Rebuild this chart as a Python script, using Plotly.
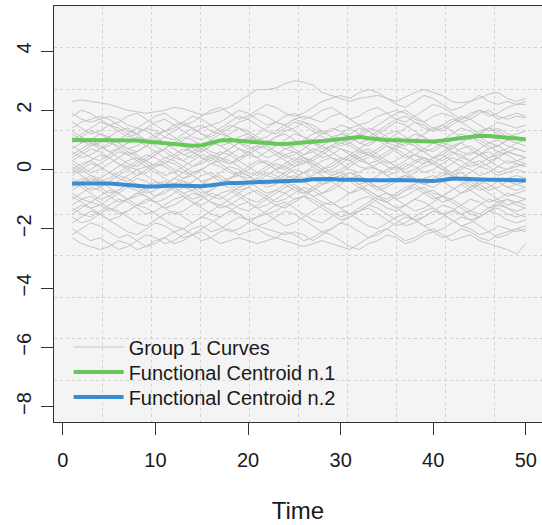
import plotly.graph_objects as go

time = list(range(1, 51))

group_curves_txt = [
    "2.3 2.35 2.3 2.25 2.2 2.1 2.0 1.95 1.9 1.95 2.0 2.1 2.05 1.95 1.85 1.9 2.0 2.1 2.3 2.5 2.7 2.7 2.75 2.9 3.0 2.95 2.85 2.6 2.5 2.4 2.3 2.4 2.45 2.5 2.4 2.3 2.45 2.6 2.7 2.6 2.5 2.3 2.25 2.3 2.4 2.55 2.6 2.4 2.3 2.4",
    "1.9 1.7 1.6 1.7 1.8 1.7 1.5 1.4 1.6 1.8 1.9 1.7 1.5 1.6 1.8 2.0 2.1 1.9 1.7 1.8 2.0 2.2 2.1 1.9 1.8 1.9 2.1 2.3 2.4 2.5 2.4 2.6 2.7 2.6 2.4 2.2 2.1 2.3 2.5 2.4 2.2 2.0 2.1 2.3 2.5 2.3 2.2 2.3 2.2 2.3",
    "1.4 1.6 1.7 1.8 1.7 1.5 1.3 1.2 1.4 1.3 1.1 1.0 1.2 1.4 1.5 1.3 1.2 1.4 1.6 1.7 1.9 1.8 1.6 1.5 1.7 1.8 1.7 1.6 1.8 1.9 1.7 1.5 1.6 1.8 1.9 2.0 1.9 1.7 1.6 1.8 1.9 1.8 1.6 1.7 1.9 2.0 1.8 1.7 1.8 1.75",
    "1.2 1.0 0.8 0.9 1.1 1.3 1.4 1.2 1.0 0.9 1.1 1.3 1.5 1.4 1.2 1.0 0.8 0.9 1.1 1.2 1.0 0.9 1.1 1.3 1.4 1.6 1.5 1.3 1.1 1.2 1.4 1.5 1.3 1.1 1.0 1.2 1.4 1.6 1.5 1.3 1.4 1.6 1.8 1.7 1.5 1.3 1.4 1.2 1.1 1.0",
    "0.9 1.1 1.3 1.2 1.0 0.7 0.5 0.6 0.8 1.0 0.9 0.7 0.5 0.4 0.6 0.8 1.0 1.2 1.4 1.3 1.1 0.9 0.8 1.0 1.2 1.1 0.9 0.7 0.8 1.0 1.2 1.4 1.3 1.1 0.9 0.8 1.0 1.2 1.1 0.9 0.8 0.7 0.9 1.1 1.3 1.4 1.2 1.0 0.9 1.0",
    "0.6 0.4 0.5 0.7 0.9 0.8 0.6 0.4 0.3 0.5 0.7 0.9 1.1 1.0 0.8 0.6 0.5 0.7 0.9 0.8 0.6 0.4 0.5 0.7 0.6 0.4 0.3 0.5 0.7 0.9 0.8 0.6 0.5 0.7 0.9 1.1 1.0 0.8 0.6 0.7 0.9 0.8 0.6 0.5 0.7 0.9 1.0 0.8 0.7 0.6",
    "0.3 0.5 0.7 0.6 0.4 0.2 0.1 0.3 0.5 0.4 0.2 0.0 -0.1 0.1 0.3 0.5 0.4 0.2 0.3 0.5 0.7 0.8 0.6 0.4 0.5 0.7 0.9 0.8 0.6 0.4 0.3 0.5 0.6 0.4 0.2 0.3 0.5 0.7 0.6 0.4 0.3 0.5 0.7 0.8 0.6 0.4 0.5 0.6 0.5 0.4",
    "0.1 -0.1 0.0 0.2 0.4 0.6 0.5 0.3 0.1 0.2 0.4 0.3 0.1 -0.1 0.0 0.2 0.1 -0.1 -0.2 0.0 0.2 0.3 0.1 0.0 0.2 0.4 0.3 0.1 -0.1 0.0 0.2 0.4 0.5 0.3 0.1 0.0 0.2 0.1 -0.1 0.0 0.2 0.4 0.3 0.1 0.2 0.4 0.6 0.5 0.3 0.2",
    "-0.2 0.0 0.2 0.1 -0.1 -0.3 -0.4 -0.2 0.0 0.2 0.1 -0.1 -0.3 -0.2 0.0 0.2 0.4 0.3 0.1 -0.1 -0.2 0.0 0.2 0.1 -0.1 -0.3 -0.2 0.0 0.2 0.4 0.3 0.1 0.0 0.2 0.3 0.1 -0.1 0.0 0.2 0.4 0.5 0.3 0.1 0.0 -0.2 -0.1 0.1 0.3 0.2 0.1",
    "-0.5 -0.3 -0.4 -0.6 -0.8 -0.7 -0.5 -0.3 -0.4 -0.6 -0.5 -0.3 -0.1 -0.2 -0.4 -0.6 -0.5 -0.3 -0.2 -0.4 -0.6 -0.8 -0.7 -0.5 -0.3 -0.1 0.0 -0.2 -0.4 -0.3 -0.1 -0.2 -0.4 -0.6 -0.5 -0.3 -0.2 -0.4 -0.5 -0.3 -0.1 -0.2 -0.4 -0.6 -0.5 -0.3 -0.4 -0.6 -0.5 -0.4",
    "-0.8 -1.0 -1.1 -0.9 -0.7 -0.8 -1.0 -1.2 -1.1 -0.9 -0.7 -0.6 -0.8 -1.0 -0.9 -0.7 -0.5 -0.6 -0.8 -1.0 -1.1 -0.9 -0.7 -0.8 -1.0 -0.9 -0.7 -0.5 -0.4 -0.6 -0.8 -0.7 -0.5 -0.6 -0.8 -1.0 -0.9 -0.7 -0.6 -0.8 -0.9 -0.7 -0.5 -0.7 -0.9 -1.1 -1.0 -0.8 -0.9 -1.0",
    "-1.2 -1.0 -0.9 -1.1 -1.3 -1.5 -1.4 -1.2 -1.0 -1.1 -1.3 -1.2 -1.0 -0.8 -0.9 -1.1 -1.3 -1.2 -1.0 -0.8 -0.7 -0.9 -1.1 -1.0 -0.8 -0.6 -0.7 -0.9 -1.1 -1.3 -1.2 -1.0 -0.9 -1.1 -1.3 -1.4 -1.2 -1.0 -1.1 -1.3 -1.5 -1.4 -1.2 -1.0 -1.1 -1.3 -1.2 -1.0 -1.1 -1.2",
    "-1.6 -1.8 -1.7 -1.5 -1.3 -1.4 -1.6 -1.8 -1.9 -1.7 -1.5 -1.4 -1.6 -1.8 -1.6 -1.4 -1.2 -1.3 -1.5 -1.7 -1.6 -1.4 -1.2 -1.1 -1.3 -1.5 -1.7 -1.8 -1.6 -1.4 -1.5 -1.7 -1.9 -2.0 -1.8 -1.6 -1.5 -1.7 -1.9 -1.8 -1.6 -1.4 -1.5 -1.7 -1.6 -1.4 -1.3 -1.5 -1.6 -1.5",
    "-2.3 -2.5 -2.6 -2.7 -2.6 -2.4 -2.5 -2.7 -2.6 -2.4 -2.3 -2.5 -2.4 -2.2 -2.1 -2.3 -2.5 -2.4 -2.3 -2.4 -2.5 -2.4 -2.3 -2.4 -2.5 -2.6 -2.5 -2.4 -2.5 -2.6 -2.7 -2.5 -2.3 -2.1 -2.0 -2.2 -2.4 -2.3 -2.1 -2.0 -2.2 -2.4 -2.3 -2.2 -2.4 -2.5 -2.6 -2.7 -2.85 -2.5",
    "-2.0 -2.2 -2.4 -2.3 -2.5 -2.7 -2.6 -2.4 -2.2 -2.3 -2.5 -2.4 -2.2 -2.0 -1.9 -2.1 -2.0 -1.8 -1.6 -1.7 -1.9 -1.8 -1.6 -1.4 -1.5 -1.7 -1.9 -2.1 -2.0 -1.8 -1.6 -1.4 -1.3 -1.5 -1.7 -1.9 -1.8 -1.6 -1.4 -1.3 -1.5 -1.7 -1.9 -2.0 -2.2 -2.1 -1.9 -2.0 -2.1 -2.0",
    "0.8 0.6 0.4 0.3 0.5 0.7 0.9 1.0 0.8 0.6 0.4 0.5 0.7 0.6 0.4 0.2 0.3 0.5 0.7 0.6 0.4 0.2 0.0 0.1 0.3 0.5 0.7 0.6 0.4 0.3 0.5 0.7 0.9 1.0 0.8 0.6 0.4 0.5 0.7 0.9 0.8 0.6 0.4 0.3 0.5 0.7 0.8 0.6 0.5 0.4",
    "0.4 0.6 0.8 1.0 1.1 0.9 0.7 0.8 1.0 1.2 1.3 1.1 0.9 0.7 0.6 0.8 1.0 0.9 0.7 0.5 0.4 0.6 0.8 0.9 0.7 0.5 0.6 0.8 1.0 1.2 1.1 0.9 0.8 1.0 1.2 1.3 1.1 0.9 0.7 0.6 0.8 1.0 1.2 1.1 0.9 0.7 0.8 1.0 1.1 1.0",
    "-0.3 -0.5 -0.7 -0.6 -0.4 -0.2 -0.3 -0.5 -0.7 -0.9 -0.8 -0.6 -0.4 -0.5 -0.7 -0.9 -1.0 -0.8 -0.6 -0.4 -0.3 -0.5 -0.4 -0.2 0.0 -0.1 -0.3 -0.5 -0.4 -0.2 -0.1 -0.3 -0.5 -0.7 -0.6 -0.4 -0.2 -0.3 -0.5 -0.6 -0.4 -0.2 -0.1 -0.3 -0.5 -0.7 -0.6 -0.4 -0.5 -0.6",
    "0.0 0.2 0.3 0.1 -0.1 -0.2 0.0 0.2 0.4 0.6 0.7 0.5 0.3 0.1 0.2 0.4 0.6 0.5 0.3 0.1 -0.1 -0.2 0.0 0.2 0.4 0.3 0.1 -0.1 0.0 0.2 0.4 0.6 0.7 0.5 0.3 0.1 0.0 0.2 0.4 0.3 0.1 -0.1 0.0 0.2 0.3 0.1 -0.1 0.0 0.2 0.1",
    "-1.0 -0.8 -0.6 -0.7 -0.9 -1.1 -1.0 -0.8 -0.6 -0.4 -0.5 -0.7 -0.9 -1.1 -1.2 -1.0 -0.8 -0.7 -0.9 -1.1 -1.3 -1.2 -1.0 -0.8 -0.6 -0.7 -0.9 -0.8 -0.6 -0.4 -0.3 -0.5 -0.7 -0.9 -1.0 -0.8 -0.6 -0.5 -0.7 -0.9 -1.1 -1.0 -0.8 -0.6 -0.4 -0.5 -0.7 -0.9 -0.8 -0.7",
    "1.6 1.4 1.2 1.3 1.5 1.4 1.2 1.0 0.9 1.1 1.3 1.5 1.6 1.4 1.2 1.1 1.3 1.5 1.4 1.2 1.0 1.1 1.3 1.5 1.7 1.6 1.4 1.2 1.3 1.5 1.4 1.2 1.1 1.3 1.5 1.7 1.8 1.6 1.4 1.3 1.5 1.7 1.6 1.4 1.2 1.4 1.6 1.5 1.4 1.5",
    "-1.4 -1.2 -1.3 -1.5 -1.7 -1.6 -1.4 -1.2 -1.3 -1.5 -1.7 -1.9 -2.0 -1.8 -1.6 -1.7 -1.9 -2.1 -2.0 -1.8 -1.6 -1.5 -1.7 -1.9 -1.8 -1.6 -1.4 -1.2 -1.1 -1.3 -1.5 -1.4 -1.2 -1.0 -1.1 -1.3 -1.5 -1.7 -1.6 -1.4 -1.2 -1.3 -1.5 -1.4 -1.2 -1.0 -1.1 -1.3 -1.4 -1.3",
    "0.2 0.0 -0.2 -0.4 -0.3 -0.1 0.1 0.0 -0.2 -0.4 -0.6 -0.5 -0.3 -0.1 0.0 -0.2 -0.4 -0.3 -0.1 0.1 0.3 0.2 0.0 -0.2 -0.3 -0.1 0.1 0.3 0.4 0.2 0.0 -0.1 0.1 0.0 -0.2 -0.4 -0.3 -0.1 0.1 0.2 0.0 -0.2 -0.3 -0.1 0.1 0.0 -0.2 -0.1 0.0 -0.1",
    "1.0 1.2 1.4 1.6 1.5 1.3 1.1 1.2 1.4 1.6 1.7 1.5 1.3 1.1 1.0 1.2 1.4 1.6 1.8 1.7 1.5 1.3 1.2 1.4 1.6 1.5 1.3 1.1 1.0 0.8 0.9 1.1 1.3 1.5 1.7 1.9 2.0 1.8 1.6 1.4 1.3 1.5 1.7 1.9 2.0 1.8 1.9 2.1 2.2 2.2",
    "-0.6 -0.4 -0.2 -0.3 -0.5 -0.4 -0.2 0.0 0.1 -0.1 -0.3 -0.5 -0.6 -0.4 -0.2 -0.1 -0.3 -0.5 -0.7 -0.6 -0.4 -0.2 -0.3 -0.5 -0.7 -0.8 -0.6 -0.4 -0.2 -0.1 -0.3 -0.5 -0.4 -0.2 0.0 0.1 -0.1 -0.3 -0.5 -0.4 -0.2 -0.1 -0.3 -0.5 -0.7 -0.6 -0.4 -0.3 -0.2 -0.3",
    "-1.8 -1.6 -1.4 -1.5 -1.7 -1.9 -2.1 -2.2 -2.0 -1.8 -1.9 -2.1 -2.3 -2.2 -2.0 -1.8 -1.6 -1.4 -1.5 -1.7 -1.9 -2.0 -2.1 -2.2 -2.1 -2.2 -2.4 -2.2 -2.0 -1.8 -1.9 -2.1 -2.3 -2.2 -2.0 -1.8 -1.6 -1.7 -1.9 -2.1 -2.0 -1.8 -1.6 -1.7 -1.9 -2.1 -2.3 -2.2 -2.0 -1.9",
    "0.5 0.7 0.9 0.8 0.6 0.4 0.2 0.1 0.3 0.5 0.7 0.9 0.8 0.6 0.4 0.3 0.5 0.7 0.9 1.1 1.0 0.8 0.6 0.5 0.3 0.2 0.4 0.6 0.8 0.7 0.5 0.3 0.4 0.6 0.8 0.7 0.5 0.3 0.2 0.4 0.6 0.8 0.9 0.7 0.5 0.3 0.4 0.6 0.7 0.6",
    "-0.9 -1.1 -1.3 -1.2 -1.0 -0.8 -0.6 -0.7 -0.9 -1.1 -1.3 -1.5 -1.4 -1.2 -1.0 -0.8 -0.9 -1.1 -1.3 -1.4 -1.2 -1.0 -0.8 -0.6 -0.5 -0.7 -0.9 -1.1 -1.2 -1.0 -0.8 -0.6 -0.7 -0.9 -1.1 -1.3 -1.2 -1.0 -0.8 -0.7 -0.9 -1.1 -1.3 -1.5 -1.6 -1.4 -1.2 -1.3 -1.5 -1.6",
    "1.3 1.1 0.9 0.7 0.8 1.0 1.2 1.4 1.3 1.1 0.9 0.8 1.0 1.2 1.4 1.5 1.3 1.1 0.9 1.0 1.2 1.4 1.6 1.5 1.3 1.1 1.0 1.2 1.4 1.3 1.1 0.9 1.0 1.2 1.4 1.6 1.5 1.3 1.1 0.9 1.0 1.2 1.4 1.3 1.1 0.9 0.8 1.0 1.1 1.0",
    "-0.1 0.1 0.3 0.5 0.4 0.2 0.0 -0.2 -0.1 0.1 0.3 0.2 0.0 -0.2 -0.4 -0.3 -0.1 0.1 0.0 -0.2 -0.4 -0.5 -0.3 -0.1 0.1 0.3 0.2 0.0 -0.2 -0.1 0.1 0.3 0.2 0.0 -0.1 0.1 0.3 0.5 0.4 0.2 0.0 -0.1 0.1 0.3 0.5 0.6 0.4 0.2 0.3 0.4",
    "-2.2 -2.0 -1.8 -1.9 -2.1 -2.3 -2.2 -2.4 -2.6 -2.5 -2.3 -2.1 -2.0 -2.2 -2.4 -2.3 -2.1 -2.0 -2.2 -2.1 -2.0 -2.2 -2.3 -2.1 -2.2 -2.4 -2.3 -2.1 -2.2 -2.4 -2.6 -2.7 -2.5 -2.4 -2.2 -2.3 -2.5 -2.4 -2.2 -2.1 -2.3 -2.2 -2.0 -2.1 -2.3 -2.4 -2.2 -2.1 -2.0 -2.1",
    "0.7 0.9 1.0 0.8 0.6 0.7 0.9 1.1 1.0 0.8 0.6 0.4 0.3 0.5 0.7 0.9 0.8 0.6 0.4 0.5 0.7 0.9 1.1 1.2 1.0 0.8 0.6 0.4 0.5 0.7 0.6 0.4 0.2 0.3 0.5 0.7 0.9 0.8 0.6 0.4 0.5 0.7 0.9 1.1 1.0 0.8 0.6 0.7 0.9 0.8",
    "-0.4 -0.6 -0.8 -1.0 -0.9 -0.7 -0.5 -0.6 -0.8 -0.7 -0.5 -0.3 -0.4 -0.6 -0.8 -0.7 -0.5 -0.3 -0.1 -0.2 -0.4 -0.6 -0.5 -0.3 -0.2 -0.4 -0.6 -0.8 -0.7 -0.5 -0.3 -0.2 -0.4 -0.6 -0.8 -0.9 -0.7 -0.5 -0.3 -0.2 -0.4 -0.6 -0.8 -0.7 -0.5 -0.3 -0.4 -0.6 -0.7 -0.6",
    "1.8 2.0 1.9 1.7 1.5 1.6 1.8 1.9 1.7 1.5 1.3 1.4 1.6 1.8 1.7 1.5 1.6 1.8 2.0 1.9 1.7 1.5 1.6 1.8 1.9 1.7 1.8 2.0 2.1 1.9 1.7 1.8 2.0 2.1 1.9 1.7 1.6 1.8 2.0 2.2 2.1 1.9 1.7 1.8 2.0 1.9 1.7 1.8 1.9 1.8",
    "0.0 -0.2 -0.4 -0.3 -0.1 0.1 0.3 0.4 0.2 0.0 -0.2 -0.1 0.1 0.3 0.5 0.4 0.2 0.0 -0.2 -0.3 -0.1 0.1 0.3 0.5 0.6 0.4 0.2 0.0 0.1 0.3 0.5 0.4 0.2 0.0 -0.2 -0.1 0.1 0.3 0.4 0.2 0.0 0.2 0.4 0.6 0.5 0.3 0.1 0.0 0.1 0.2",
    "-1.3 -1.5 -1.6 -1.4 -1.2 -1.0 -1.1 -1.3 -1.5 -1.4 -1.2 -1.0 -0.9 -1.1 -1.3 -1.5 -1.6 -1.4 -1.2 -1.1 -1.3 -1.5 -1.4 -1.2 -1.0 -0.9 -1.1 -1.3 -1.5 -1.7 -1.6 -1.4 -1.2 -1.3 -1.5 -1.7 -1.9 -1.8 -1.6 -1.4 -1.5 -1.7 -1.9 -1.8 -1.6 -1.4 -1.5 -1.7 -1.8 -1.7",
    "0.3 0.1 -0.1 0.0 0.2 0.4 0.6 0.5 0.3 0.1 0.2 0.4 0.6 0.8 0.7 0.5 0.3 0.2 0.4 0.6 0.8 0.7 0.5 0.3 0.1 0.2 0.4 0.6 0.8 1.0 0.9 0.7 0.5 0.4 0.6 0.8 0.7 0.5 0.3 0.2 0.4 0.6 0.5 0.3 0.1 0.2 0.4 0.6 0.5 0.4",
    "-0.7 -0.5 -0.3 -0.4 -0.6 -0.8 -1.0 -0.9 -0.7 -0.5 -0.4 -0.6 -0.8 -0.7 -0.5 -0.3 -0.2 -0.4 -0.6 -0.5 -0.3 -0.1 -0.2 -0.4 -0.6 -0.8 -0.7 -0.5 -0.3 -0.2 -0.4 -0.6 -0.8 -1.0 -1.1 -0.9 -0.7 -0.6 -0.8 -1.0 -0.9 -0.7 -0.5 -0.4 -0.6 -0.8 -1.0 -1.2 -1.1 -1.0",
    "1.1 0.9 1.0 1.2 1.1 0.9 0.7 0.6 0.8 1.0 0.9 0.7 0.5 0.6 0.8 1.0 1.2 1.1 0.9 0.7 0.8 1.0 0.9 0.7 0.8 1.0 1.2 1.3 1.1 0.9 1.0 1.2 1.4 1.3 1.1 0.9 0.8 1.0 1.2 1.4 1.5 1.3 1.1 1.0 1.2 1.4 1.3 1.1 1.2 1.3",
    "-1.5 -1.3 -1.1 -1.2 -1.4 -1.2 -1.0 -0.8 -0.9 -1.1 -1.0 -0.8 -0.6 -0.7 -0.9 -1.1 -1.2 -1.0 -0.8 -0.6 -0.8 -1.0 -1.2 -1.3 -1.1 -0.9 -1.0 -1.2 -1.4 -1.6 -1.5 -1.3 -1.1 -0.9 -0.8 -1.0 -1.2 -1.4 -1.3 -1.1 -0.9 -1.0 -1.2 -1.4 -1.5 -1.3 -1.1 -1.0 -1.2 -1.3",
]
group_curves = [[float(v) for v in s.split()] for s in group_curves_txt]

centroid_1 = [1.0, 1.0, 0.99, 1.0, 1.0, 0.98, 0.97, 0.98, 0.95, 0.92,
              0.88, 0.84, 0.81, 0.80, 0.82, 0.90, 0.98, 1.0, 0.97, 0.95,
              0.93, 0.90, 0.87, 0.86, 0.88, 0.90, 0.92, 0.96, 1.0, 1.04,
              1.08, 1.10, 1.06, 1.02, 1.0, 0.99, 0.98, 0.96, 0.94, 0.95,
              0.98, 1.02, 1.08, 1.12, 1.14, 1.13, 1.10, 1.06, 1.03, 1.02]
centroid_2 = [-0.47, -0.48, -0.48, -0.47, -0.47, -0.50, -0.53, -0.56, -0.57, -0.57,
              -0.55, -0.54, -0.55, -0.57, -0.56, -0.53, -0.48, -0.45, -0.45, -0.44,
              -0.43, -0.43, -0.42, -0.41, -0.40, -0.37, -0.33, -0.31, -0.32, -0.34,
              -0.33, -0.34, -0.36, -0.37, -0.36, -0.35, -0.36, -0.38, -0.39, -0.39,
              -0.35, -0.31, -0.31, -0.33, -0.34, -0.34, -0.34, -0.35, -0.36, -0.37]

x_ticks = [0, 10, 20, 30, 40, 50]
y_ticks = [-8, -6, -4, -2, 0, 2, 4]
labels = ["Group 1 Curves", "Functional Centroid n.1", "Functional Centroid n.2"]

GRAY = "#C4C4C4"
GREEN = "#66C85A"
BLUE = "#3B8DD3"
AX = "#333333"

xr = [-0.96, 51.75]
xr_full = [-0.96, 51.96]
yr = [-8.52, 5.52]

fig = go.Figure()
for i, c in enumerate(group_curves):
    fig.add_trace(go.Scatter(x=time[:len(c)], y=c, mode="lines",
                             line=dict(color=GRAY, width=1),
                             name=labels[0], legendgroup="g1", legend="legend",
                             showlegend=(i == 0), hoverinfo="skip"))
fig.add_trace(go.Scatter(x=time, y=centroid_1, mode="lines", legend="legend2",
                         line=dict(color=GREEN, width=4), name=labels[1]))
fig.add_trace(go.Scatter(x=time, y=centroid_2, mode="lines", legend="legend3",
                         line=dict(color=BLUE, width=4), name=labels[2]))
# carrier for the grid axes (R grid(): 10 equal cells of the plotting region)
fig.add_trace(go.Scatter(x=[None], y=[None], xaxis="x2", yaxis="y2",
                         showlegend=False, hoverinfo="skip"))

# plot area: x 54..542 px, y 6..422 px
PLOT_TOP, PLOT_BOTTOM = 6, 422
def ypaper(px):
    return (PLOT_BOTTOM - px) / (PLOT_BOTTOM - PLOT_TOP)

leg_common = dict(x=0.030, xanchor="left", yanchor="middle",
                  bgcolor="rgba(0,0,0,0)", font=dict(size=20), itemwidth=50)

fig.update_layout(
    width=542, height=525,
    margin=dict(l=54, r=0, t=PLOT_TOP, b=525 - PLOT_BOTTOM),
    paper_bgcolor="white", plot_bgcolor="#F4F4F4",
    font=dict(family="Liberation Sans, Arial, sans-serif", size=20, color="#1a1a1a"),
    showlegend=True,
    legend=dict(y=ypaper(347), **leg_common),
    legend2=dict(y=ypaper(372), **leg_common),
    legend3=dict(y=ypaper(397), **leg_common),
    xaxis=dict(range=xr, tickvals=x_ticks, ticks="outside", ticklen=12,
               tickcolor=AX, tickwidth=1, showline=True, linecolor=AX,
               linewidth=1, mirror=True, showgrid=False, zeroline=False,
               ticklabelstandoff=8,
               title=dict(text="Time", standoff=32)),
    yaxis=dict(range=yr, tickvals=y_ticks, ticks="outside", ticklen=12,
               tickcolor=AX, tickwidth=1, showline=True, linecolor=AX,
               linewidth=1, showgrid=False, zeroline=False, tickangle=-90,
               ticklabelstandoff=2),
    xaxis2=dict(overlaying="x", anchor="y2", range=xr, tick0=xr_full[0],
                dtick=(xr_full[1] - xr_full[0]) / 10, showgrid=True,
                gridcolor="#D2D2D2", griddash="dot", gridwidth=1,
                showticklabels=False, ticks="", zeroline=False, showline=False),
    yaxis2=dict(overlaying="y", anchor="x2", range=yr, tick0=yr[0],
                dtick=(yr[1] - yr[0]) / 10, showgrid=True,
                gridcolor="#D2D2D2", griddash="dot", gridwidth=1,
                showticklabels=False, ticks="", zeroline=False, showline=False),
)

fig.write_html("out.html")
